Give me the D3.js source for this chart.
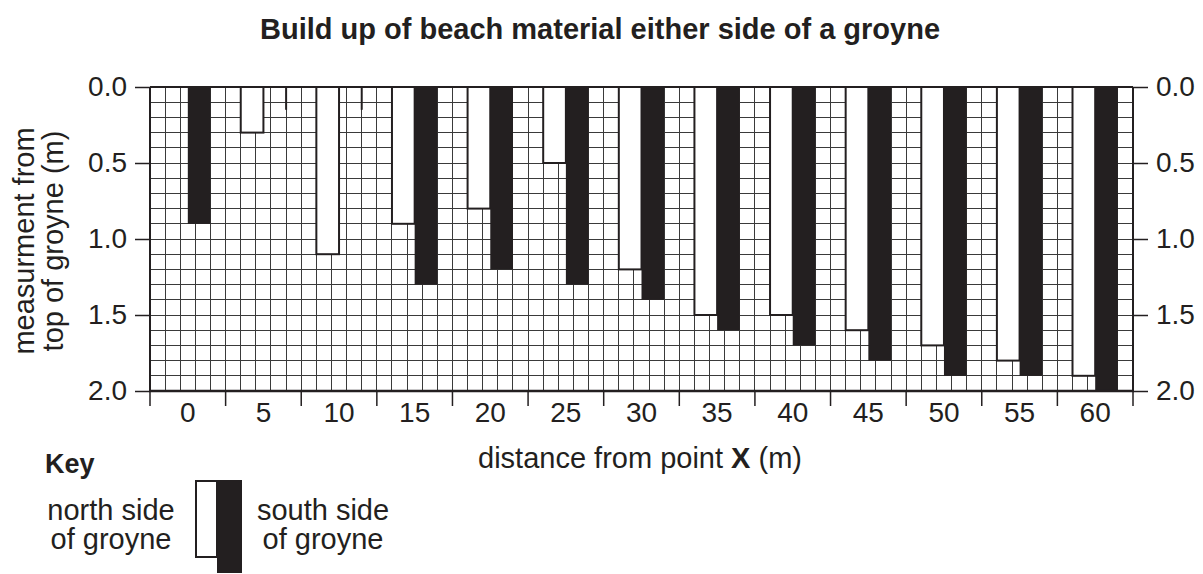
<!DOCTYPE html>
<html>
<head>
<meta charset="utf-8">
<script src="https://cdn.jsdelivr.net/npm/d3@7"></script>
<style>
  body { margin: 0; background: #fff; }
  text { font-family: "Liberation Sans", Arial, sans-serif; fill: #231f20; }
</style>
</head>
<body>
<svg id="chart" width="1203" height="574"></svg>
<script>
// distances from point X (m)
const distances = [0, 5, 10, 15, 20, 25, 30, 35, 40, 45, 50, 55, 60];
// measurement from top of groyne (m)
const northSide = [0, 0.3, 1.1, 0.9, 0.8, 0.5, 1.2, 1.5, 1.5, 1.6, 1.7, 1.8, 1.9];
const southSide = [0.9, 0.15, 0.15, 1.3, 1.2, 1.3, 1.4, 1.6, 1.7, 1.8, 1.9, 1.9, 2.0];
// south readings drawn only as a thin mark
const southStubs = [5, 10];
const yTicks = [0, 0.5, 1.0, 1.5, 2.0];

const ink = "#231f20";
const svg = d3.select("#chart");
const margin = { left: 150, right: 70, top: 87, bottom: 183 };
const W = 1203, H = 574;
const x0 = margin.left, x1 = W - margin.right;
const y0 = margin.top, y1 = H - margin.bottom;

const x = d3.scaleBand().domain(distances).range([x0, x1]).padding(0);
const y = d3.scaleLinear().domain([0, 2]).range([y0, y1]);
const cells = 5; // grid cells per category
const cell = x.bandwidth() / cells;

// title
svg.append("text")
    .attr("x", 600).attr("y", 39)
    .attr("text-anchor", "middle")
    .style("font-weight", "bold")
    .style("font-size", "29px")
    .text("Build up of beach material either side of a groyne");

// grid
const grid = svg.append("g")
    .attr("stroke", "#3a3a3a").attr("stroke-width", 1)
    .attr("shape-rendering", "crispEdges");
const vCount = distances.length * cells;
grid.selectAll(".v")
    .data(d3.range(1, vCount))
    .join("line")
    .attr("x1", i => x0 + i * cell).attr("x2", i => x0 + i * cell)
    .attr("y1", y0).attr("y2", y1);
grid.selectAll(".h")
    .data(d3.range(1, 20).map(i => i / 10))
    .join("line")
    .attr("x1", x0).attr("x2", x1)
    .attr("y1", d => y(d)).attr("y2", d => y(d));

// bars
const bars = svg.append("g");
bars.selectAll(".north")
    .data(distances.map((d, i) => ({ d, v: northSide[i] })).filter(o => o.v > 0))
    .join("rect")
    .attr("x", o => x(o.d) + cell)
    .attr("width", cell * 1.5)
    .attr("y", y(0))
    .attr("height", o => y(o.v) - y(0))
    .attr("fill", "#fff")
    .attr("stroke", ink)
    .attr("stroke-width", 2);

const south = distances.map((d, i) => ({ d, v: southSide[i] }));
bars.selectAll(".south")
    .data(south.filter(o => !southStubs.includes(o.d)))
    .join("rect")
    .attr("x", o => x(o.d) + cell * 2.5)
    .attr("width", cell * 1.5)
    .attr("y", y(0))
    .attr("height", o => y(o.v) - y(0))
    .attr("fill", ink);
bars.selectAll(".stub")
    .data(south.filter(o => southStubs.includes(o.d)))
    .join("line")
    .attr("x1", o => x(o.d) + cell * 4).attr("x2", o => x(o.d) + cell * 4)
    .attr("y1", y(0)).attr("y2", o => y(o.v))
    .attr("stroke", ink).attr("stroke-width", 2);

// frame
const frame = svg.append("g").attr("stroke", ink).attr("fill", "none");
frame.append("line").attr("x1", x0).attr("x2", x1).attr("y1", y0).attr("y2", y0).attr("stroke-width", 2);
frame.append("line").attr("x1", x0 - 1).attr("x2", x1 + 1).attr("y1", y1).attr("y2", y1).attr("stroke-width", 2.5);
frame.append("line").attr("x1", x0).attr("x2", x0).attr("y1", y0).attr("y2", y1).attr("stroke-width", 2);
frame.append("line").attr("x1", x1).attr("x2", x1).attr("y1", y0).attr("y2", y1).attr("stroke-width", 2);

// y axes (left and right)
const fmt = d3.format(".1f");
const leftAxis = svg.append("g")
    .attr("transform", `translate(${x0},0)`)
    .call(d3.axisLeft(y).tickValues(yTicks).tickFormat(fmt).tickSize(15).tickPadding(8));
const rightAxis = svg.append("g")
    .attr("transform", `translate(${x1},0)`)
    .call(d3.axisRight(y).tickValues(yTicks).tickFormat(fmt).tickSize(15).tickPadding(8));
[leftAxis, rightAxis].forEach(a => {
    a.select(".domain").remove();
    a.selectAll("line").attr("stroke", ink).attr("stroke-width", 1.5);
    a.selectAll("text").style("font-size", "28px").attr("fill", ink)
        .style("font-family", "'Liberation Sans', Arial, sans-serif");
});

// x axis: ticks on category boundaries, labels at centres
const xAxis = svg.append("g");
xAxis.selectAll(".tick")
    .data(d3.range(distances.length + 1))
    .join("line")
    .attr("x1", i => x0 + i * x.bandwidth()).attr("x2", i => x0 + i * x.bandwidth())
    .attr("y1", y1).attr("y2", y1 + 15)
    .attr("stroke", ink).attr("stroke-width", 1.5);
xAxis.selectAll(".lab")
    .data(distances)
    .join("text")
    .attr("x", d => x(d) + x.bandwidth() / 2)
    .attr("y", y1 + 31)
    .attr("text-anchor", "middle")
    .style("font-size", "28px")
    .text(d => d);

// x axis title
const xt = svg.append("text")
    .attr("x", 640).attr("y", 468)
    .attr("text-anchor", "middle")
    .style("font-size", "29px");
xt.append("tspan").text("distance from point ");
xt.append("tspan").style("font-weight", "bold").text("X");
xt.append("tspan").text(" (m)");

// y axis title
const yt = svg.append("text")
    .attr("transform", "translate(0,241) rotate(-90)")
    .attr("text-anchor", "middle")
    .style("font-size", "29px");
yt.append("tspan").attr("x", 0).attr("y", 34).text("measurment from");
yt.append("tspan").attr("x", 0).attr("y", 63).text("top of groyne (m)");

// key
svg.append("text")
    .attr("x", 45).attr("y", 473)
    .style("font-weight", "bold")
    .style("font-size", "27px")
    .text("Key");
svg.append("rect")
    .attr("x", 196).attr("y", 481).attr("width", 21).attr("height", 76)
    .attr("fill", "#fff").attr("stroke", ink).attr("stroke-width", 2);
svg.append("rect")
    .attr("x", 217).attr("y", 480).attr("width", 25).attr("height", 93)
    .attr("fill", ink);
const keyText = (cx, lines) => {
    const t = svg.append("text").attr("text-anchor", "middle").style("font-size", "29px");
    lines.forEach((l, i) => t.append("tspan").attr("x", cx).attr("y", 520 + i * 29).text(l));
};
keyText(111, ["north side", "of groyne"]);
keyText(323, ["south side", "of groyne"]);
</script>
</body>
</html>
